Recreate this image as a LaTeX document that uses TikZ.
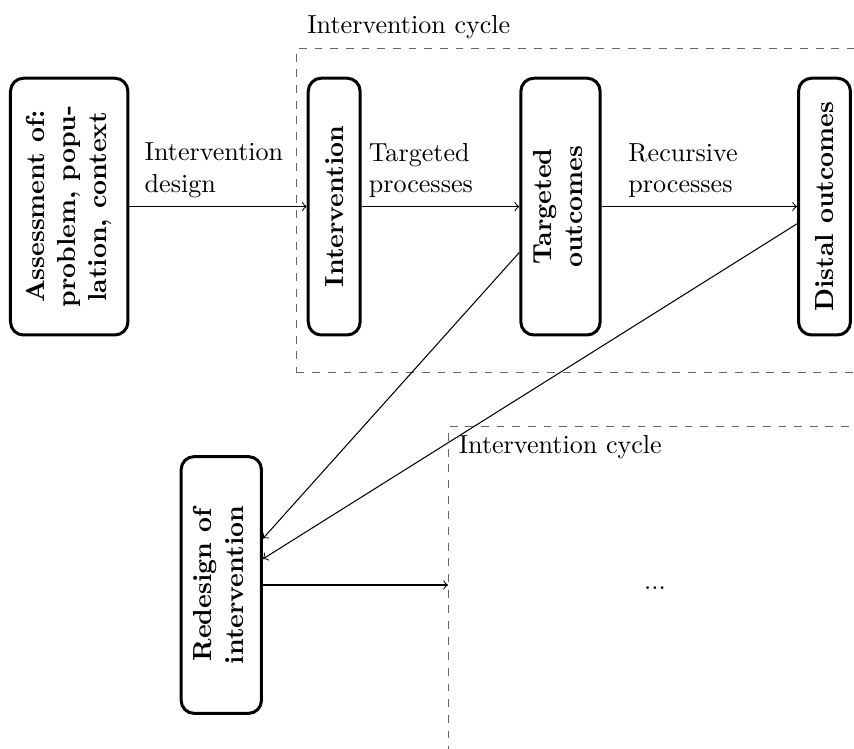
\documentclass[tikz,border=0pt]{standalone}
\usetikzlibrary{calc}
\begin{document}
\begin{tikzpicture}[x=0.3832pt, y=-0.3832pt,
  stagebox/.style={draw, line width=1.15pt, rounded corners=5pt, inner sep=0pt,
    font=\bfseries, minimum height=98.4pt},
  cycbox/.style={draw=black!60, dashed, line width=0.5pt, anchor=north west, inner sep=0pt},
  flow/.style={->},
  lbl/.style={anchor=south west, align=left}
]
\useasboundingbox (0,0) rectangle (854,749);
\clip (0,0) rectangle (854,749);

% dashed frames of the two intervention cycles
\node[cycbox, minimum width=269.8pt, minimum height=124.3pt] (cyc1) at (296,47.7) {};
\node[anchor=south west, xshift=0.8pt] (cyc1lbl) at (cyc1.north west) {Intervention cycle};
\node[cycbox, minimum width=230pt, minimum height=143.4pt] (cyc2) at (448,425.7) {};
\node[anchor=north west, xshift=0.6pt] (cyc2lbl) at (cyc2.north west) {Intervention cycle};
\node (more) at (655,588) {...};

% stages
\node[stagebox, minimum width=45pt] (assess) at (69.2,206.6)
  {\rotatebox{90}{\begin{tabular}{@{}c@{}}Assessment of:\\problem, popu-\\lation, context\end{tabular}}};
\node[stagebox, minimum width=19.9pt] (interv) at (334.2,206.6)
  {\rotatebox{90}{Intervention}};
\node[stagebox, minimum width=30.4pt] (tout) at (560.5,206.6)
  {\rotatebox{90}{\begin{tabular}{@{}c@{}}Targeted\\outcomes\end{tabular}}};
\node[stagebox, minimum width=19.9pt] (dout) at (824.5,206.6)
  {\rotatebox{90}{Distal outcomes}};
\node[stagebox, minimum width=30.8pt] (redes) at (221.3,585)
  {\rotatebox{90}{\begin{tabular}{@{}c@{}}Redesign of\\intervention\end{tabular}}};

% connectors
\draw[flow] (assess) -- (interv)
  node[lbl, pos=0.034] {Intervention\\design};
\draw[flow] (interv) -- (tout)
  node[lbl, pos=0, xshift=-0.8pt] {Targeted\\processes};
\draw[flow] (tout) -- (dout)
  node[lbl, pos=0.09] {Recursive\\processes};
\draw[flow] (tout) -- (redes);
\draw[flow] (dout) -- (redes);
\draw[flow] (redes) -- (redes -| cyc2.west);
\end{tikzpicture}
\end{document}
